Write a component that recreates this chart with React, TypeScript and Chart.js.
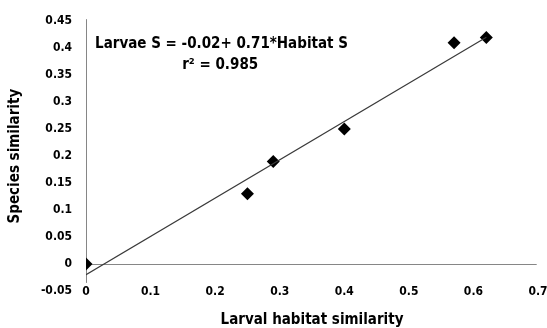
import React, { useEffect, useRef } from "react";
import { Chart, registerables } from "chart.js";

Chart.register(...registerables);

const habitatSimilarity = [0, 0.25, 0.29, 0.4, 0.57, 0.62];
const speciesSimilarity = [0, 0.13, 0.19, 0.25, 0.41, 0.42];
const fitIntercept = -0.02;
const fitSlope = 0.71;
const fitX = [0, 0.62];
const equationLine1 = "Larvae S = -0.02+ 0.71*Habitat S";
const equationLine2 = "r² = 0.985";

const FONT = "'DejaVu Sans Condensed', 'Liberation Sans Narrow', 'Liberation Sans', Arial, sans-serif";

const axesPlugin = {
  id: "customAxes",
  beforeDatasetsDraw(chart: any) {
    const { ctx, scales, chartArea } = chart;
    const x = scales.x;
    const y = scales.y;
    ctx.save();
    ctx.strokeStyle = "#868686";
    ctx.lineWidth = 1;
    const x0 = Math.round(x.getPixelForValue(0)) + 0.5;
    const y0 = Math.round(y.getPixelForValue(0)) + 0.5;
    ctx.beginPath();
    ctx.moveTo(x0, chartArea.top - 2);
    ctx.lineTo(x0, y.getPixelForValue(-0.035));
    ctx.stroke();
    ctx.beginPath();
    ctx.moveTo(x0, y0);
    ctx.lineTo(x.getPixelForValue(0.698), y0);
    ctx.stroke();
    // x tick labels, placed level with the lowest y value (Excel "low" labels)
    ctx.fillStyle = "#000";
    ctx.font = `bold 12px ${FONT}`;
    ctx.textAlign = "center";
    ctx.textBaseline = "middle";
    const ly = y.getPixelForValue(y.min) + 1;
    x.ticks.forEach((t: any) => {
      ctx.fillText(String(Math.round(t.value * 10) / 10), x.getPixelForValue(t.value), ly);
    });
    ctx.restore();
  },
  afterDatasetsDraw(chart: any) {
    const { ctx, scales } = chart;
    const x = scales.x;
    const y = scales.y;
    ctx.save();
    ctx.fillStyle = "#000";
    ctx.font = `bold 15px ${FONT}`;
    ctx.textBaseline = "middle";
    ctx.textAlign = "left";
    ctx.fillText(equationLine1, x.getPixelForValue(0.014), y.getPixelForValue(0.408));
    ctx.fillText(equationLine2, x.getPixelForValue(0.149), y.getPixelForValue(0.368));
    ctx.restore();
  },
};

export default function App() {
  const ref = useRef<HTMLCanvasElement>(null);
  useEffect(() => {
    document.body.style.margin = "0";
    const points = habitatSimilarity.map((v, i) => ({ x: v, y: speciesSimilarity[i] }));
    const fit = fitX.map((v) => ({ x: v, y: fitIntercept + fitSlope * v }));
    const chart = new Chart(ref.current as HTMLCanvasElement, {
      type: "scatter",
      data: {
        datasets: [
          {
            data: fit,
            showLine: true,
            borderColor: "#3a3a3a",
            borderWidth: 1.2,
            pointRadius: 0,
            pointHoverRadius: 0,
          },
          {
            data: points,
            pointStyle: "rectRot",
            pointRadius: 6.5,
            pointBackgroundColor: "#000",
            pointBorderColor: "#000",
            borderWidth: 0,
          },
        ],
      },
      options: {
        animation: false,
        responsive: false,
        plugins: { legend: { display: false }, tooltip: { enabled: false } },
        layout: { padding: { left: 0, right: 9, top: 19, bottom: 0 } },
        scales: {
          x: {
            type: "linear",
            min: 0,
            max: 0.7,
            grid: { display: false, drawTicks: false },
            border: { display: false },
            afterFit: (s: any) => {
              s.height = 37;
            },
            ticks: {
              stepSize: 0.1,
              display: false,
            },
            title: {
              display: true,
              text: "Larval habitat similarity",
              color: "#000",
              font: { family: FONT, size: 15, weight: "bold" },
              padding: { top: 0, bottom: -1 },
            },
          },
          y: {
            type: "linear",
            min: -0.05,
            max: 0.45,
            grid: { display: false, drawTicks: false },
            border: { display: false },
            afterFit: (s: any) => {
              s.width = 86;
            },
            ticks: {
              stepSize: 0.05,
              padding: 14,
              color: "#000",
              font: { family: FONT, size: 12, weight: "bold" },
              callback: (v: any) => String(Math.round(Number(v) * 100) / 100),
            },
            title: {
              display: true,
              text: "Species similarity",
              color: "#000",
              font: { family: FONT, size: 15, weight: "bold" },
              padding: { top: 6, bottom: 0 },
            },
          },
        },
      },
      plugins: [axesPlugin],
    });
    return () => chart.destroy();
  }, []);
  return (
    <div style={{ width: 547, height: 328 }}>
      <canvas ref={ref} width={547} height={328} style={{ display: "block" }} />
    </div>
  );
}
